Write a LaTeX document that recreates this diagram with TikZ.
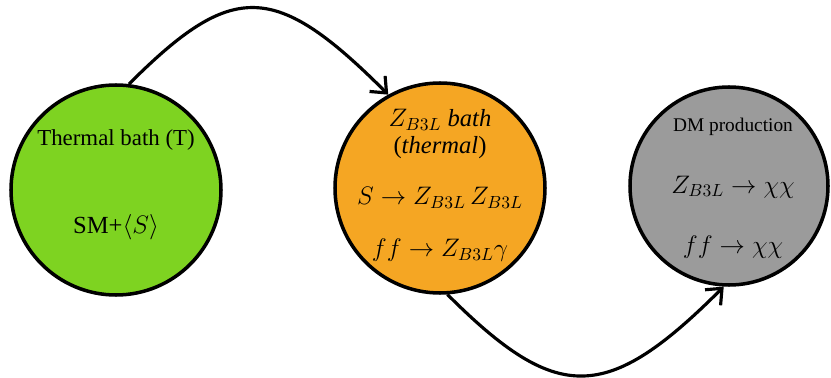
\documentclass[tikz,border=0pt]{standalone}
\usepackage{amsmath}
\usepackage{fontspec}
\setmainfont{Liberation Serif}
\usetikzlibrary{arrows.meta}

\definecolor{bathgreen}{RGB}{126,211,33}
\definecolor{bathorange}{RGB}{245,166,35}
\definecolor{dmgray}{RGB}{155,155,155}

\begin{document}
\begin{tikzpicture}[
        >={Straight Barb[length=2.6mm,width=4.4mm]},
        line width=1.8pt,
        every node/.style={font=\fontsize{14}{17}\selectfont},
        blob/.style={circle, draw, line width=2pt, minimum size=#1, inner sep=0pt}
    ]

        \useasboundingbox (0,0) rectangle (16.62,7.56);

        % Bagni
        \node[blob=4.2cm, fill=bathgreen] (thermal) at (2.32,3.76) {};
        \node[blob=4.2cm, fill=bathorange] (zbath) at (8.80,3.80) {};
        \node[blob=3.96cm, fill=dmgray] (dmprod) at (14.58,3.84) {};

        % Testi
        \node[font=\fontsize{13}{16}\selectfont] (thermaltitle)
            at ([yshift=1.0cm]thermal.center) {Thermal bath (T)};
        \node (thermalsm) at ([yshift=-0.74cm]thermal.center) {SM+$\langle S\rangle$};

        \node (zbathtitle) at ([yshift=1.36cm]zbath.center) {$Z_{B3L}$ \textit{bath}};
        \node (zbathsub) at ([yshift=0.80cm]zbath.center) {(\textit{thermal})};
        \node (zbathdecay) at ([yshift=-0.20cm]zbath.center) {$S\rightarrow Z_{B3L}\,Z_{B3L}$};
        \node (zbathann) at ([yshift=-1.24cm]zbath.center) {$ff\rightarrow Z_{B3L}\gamma$};

        \node[font=\fontsize{11}{13}\selectfont] (dmtitle)
            at ([xshift=0.08cm,yshift=1.18cm]dmprod.center) {DM production};
        \node (dmdecay) at ([xshift=0.08cm,yshift=-0.02cm]dmprod.center) {$Z_{B3L}\rightarrow\chi\chi$};
        \node (dmann) at ([xshift=0.08cm,yshift=-1.22cm]dmprod.center) {$ff\rightarrow\chi\chi$};

        % Frecce
        \draw[->] (thermal.83) .. controls +(45:2.94) and +(135:3.2) .. (zbath.119);

        \draw[->] (zbath.274) .. controls +(-45:3.11) and +(-135:3.31) .. (dmprod.267);

    \end{tikzpicture}
\end{document}
